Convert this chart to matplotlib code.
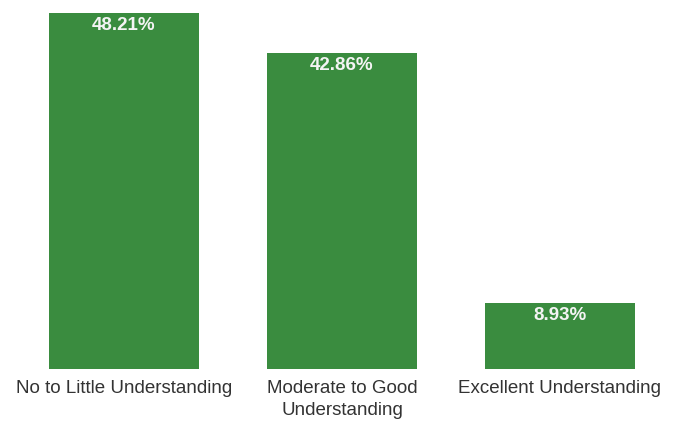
import matplotlib
matplotlib.use("Agg")
import matplotlib.pyplot as plt

categories = ["No to Little Understanding", "Moderate to Good\nUnderstanding", "Excellent Understanding"]
percentages = [48.21, 42.86, 8.93]

plt.rcParams["font.family"] = ["Liberation Sans", "DejaVu Sans"]

fig = plt.figure(figsize=(6.77, 4.24), dpi=100)
ax = fig.add_axes([15 / 677, 55 / 424, 654 / 677, 356 / 424])

x = range(len(categories))
bars = ax.bar(x, percentages, width=0.688, color="#3a8c3f")

for bar, value in zip(bars, percentages):
    ax.annotate(f"{value:.2f}%", (bar.get_x() + bar.get_width() / 2, value),
                xytext=(0, -3), textcoords="offset points",
                ha="center", va="top", color="#f4f4f4",
                fontsize=13.5, fontweight="bold")

ax.set_xlim(-0.5, 2.5)
ax.set_ylim(0, 48.21)
ax.set_xticks(list(x))
ax.set_xticklabels(categories, fontsize=13.5, color="#333333", linespacing=1.4)
ax.tick_params(axis="x", length=0, pad=8)
ax.set_yticks([])
for side in ax.spines.values():
    side.set_visible(False)

fig.savefig("out.png", dpi=100)
